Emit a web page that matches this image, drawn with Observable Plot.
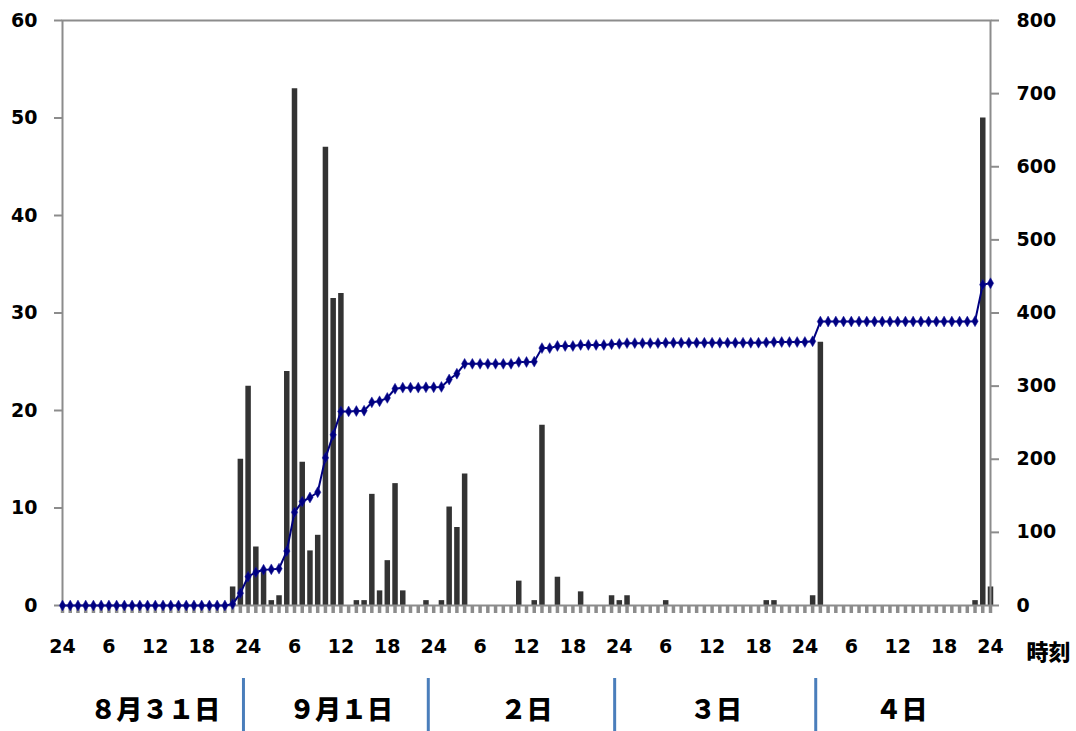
<!DOCTYPE html>
<html>
<head>
<meta charset="utf-8">
<script src="https://cdn.jsdelivr.net/npm/d3@7"></script>
<script src="https://cdn.jsdelivr.net/npm/@observablehq/plot@0.6"></script>
<style>
  html, body { margin: 0; padding: 0; background: #fff; }
  #chart { position: relative; width: 1076px; height: 731px; background: #fff; }
  #chart > svg, #chart > div { position: absolute; left: 0; }
</style>
</head>
<body>
<div id="chart"></div>
<script>
// Hourly rainfall (mm), hour index 0 = 8/31 0:00 ("24") ... 120 = 9/5 0:00
const rainfall = [
  0,0,0,0,0,0,0,0,0,0,0,0,
  0,0,0,0,0,0,0,0,0,0,1.9,15,
  22.5,6,3.5,0.5,1,24,53,14.7,5.6,7.2,47,31.5,
  32,0,0.5,0.5,11.4,1.5,4.6,12.5,1.5,0,0,0.5,
  0,0.5,10.1,8,13.5,0,0,0,0,0,0,2.5,
  0,0.5,18.5,0,2.9,0,0,1.4,0,0,0,1,
  0.5,1,0,0,0,0,0.5,0,0,0,0,0,
  0,0,0,0,0,0,0,0.5,0.5,0,0,0,
  0,1,27,0,0,0,0,0,0,0,0,0,
  0,0,0,0,0,0,0,0,0,0,0.5,50,
  1.9
];
// Cumulative rainfall (mm), right axis
const cumulative = [
  0,0,0,0,0,0,0,0,0,0,0,0,
  0,0,0,0,0,0,0,0,0,0,1.9,16.9,
  39.4,45.4,48.9,49.4,50.4,74.4,127.4,142.1,147.7,154.9,201.9,233.4,
  265.4,265.4,265.9,266.4,277.8,279.3,283.9,296.4,297.9,297.9,297.9,298.4,
  298.4,298.9,309.0,317.0,330.5,330.5,330.5,330.5,330.5,330.5,330.5,333.0,
  333.0,333.5,352.0,352.0,354.9,354.9,354.9,356.3,356.3,356.3,356.3,357.3,
  357.8,358.8,358.8,358.8,358.8,358.8,359.3,359.3,359.3,359.3,359.3,359.3,
  359.3,359.3,359.3,359.3,359.3,359.3,359.3,359.8,360.3,360.3,360.3,360.3,
  360.3,361.3,388.3,388.3,388.3,388.3,388.3,388.3,388.3,388.3,388.3,388.3,
  388.3,388.3,388.3,388.3,388.3,388.3,388.3,388.3,388.3,388.3,388.8,438.8,
  440.7
];
const xTicks = [0,6,12,18,24,30,36,42,48,54,60,66,72,78,84,90,96,102,108,114,120];
const xTickLabels = ["24","6","12","18","24","6","12","18","24","6","12","18","24","6","12","18","24","6","12","18","24"];
const leftTicks = [0,10,20,30,40,50,60];
const rightTicks = [0,100,200,300,400,500,600,700,800];
const dayLabels = ["８月３１日","９月１日","２日","３日","４日"];
const dayCenters = [12,36,60,84.5,108.5];
const dayDividers = [23.4,47.3,71.4,97.4];
const axisTitle = "時刻";

const rows = rainfall.map((r, i) => ({hour: i, rain: r, cum: cumulative[i]}));
const hourTicks = rows.map(d => d.hour);

const W = 1076, H = 731;
const M = {top: 20, bottom: 126, left: 62, right: 86};
const numFont = "'DejaVu Sans', sans-serif";
const cjkFont = "'Noto Sans CJK JP', sans-serif";
const gray = "#8c8c8c";
const tickFs = 19;

const base = {
  width: W, height: H,
  marginTop: M.top, marginBottom: M.bottom, marginLeft: M.left, marginRight: M.right,
  style: {fontFamily: numFont, fontSize: "19px", fontWeight: "bold", color: "#000", background: "transparent", overflow: "visible"}
};

// Plot A: bars, left axis, x axis
const plotA = Plot.plot({
  ...base,
  x: {domain: [0, 120]},
  y: {domain: [0, 60]},
  marks: [
    Plot.ruleX(rows.filter(d => d.rain > 0), {x: "hour", y1: 0, y2: "rain", stroke: "#333333", strokeWidth: 5.5}),
    Plot.frame({stroke: gray, strokeWidth: 2}),
    Plot.axisY({ticks: leftTicks, tickSize: 8, tickPadding: 17, stroke: gray, strokeWidth: 2, fill: "#000", fontSize: tickFs, fontWeight: "bold", label: null}),
    Plot.axisX({ticks: hourTicks, tickSize: 8, tickFormat: () => "", stroke: gray, strokeWidth: 3.5, label: null}),
    Plot.axisX({ticks: xTicks, tickSize: 0, tickPadding: 34, tickFormat: (d, i) => xTickLabels[i], fill: "#000", fontSize: tickFs, fontWeight: "bold", label: null}),
    Plot.text([axisTitle], {frameAnchor: "bottom-right", dx: 58, dy: 47, textAnchor: "middle", lineAnchor: "middle", text: d => d, fontFamily: cjkFont, fontSize: 22, fontWeight: 900, fill: "#000"})
  ]
});

// Plot B: cumulative line, right axis
const plotB = Plot.plot({
  ...base,
  x: {domain: [0, 120], axis: null},
  y: {domain: [0, 800]},
  marks: [
    Plot.axisY({anchor: "right", ticks: rightTicks, tickSize: 8, tickPadding: 18, stroke: gray, strokeWidth: 2, fill: "#000", fontSize: tickFs, fontWeight: "bold", label: null}),
    Plot.line(rows, {x: "hour", y: "cum", stroke: "#000080", strokeWidth: 2}),
    Plot.dot(rows, {x: "hour", y: "cum", symbol: "diamond", r: 3.3, fill: "#000080", stroke: "#1a1aa0", strokeWidth: 0.5})
  ]
});

// Plot C: date band under the axis
const plotC = Plot.plot({
  width: W, height: 53,
  marginTop: 0, marginBottom: 0, marginLeft: M.left, marginRight: M.right,
  x: {domain: [0, 120], axis: null},
  style: {fontFamily: cjkFont, fontWeight: "bold", background: "transparent", overflow: "visible"},
  marks: [
    Plot.ruleX(dayDividers, {stroke: "#4a7ebb", strokeWidth: 3}),
    Plot.text(dayLabels, {x: (d, i) => dayCenters[i], text: d => d, frameAnchor: "middle", dy: 6, fontSize: 26, fontWeight: 900, fill: "#000"})
  ]
});

const chart = document.getElementById("chart");
plotA.style.top = "0px";
plotB.style.top = "0px";
plotC.style.top = "678px";
chart.append(plotA, plotB, plotC);
</script>
</body>
</html>
